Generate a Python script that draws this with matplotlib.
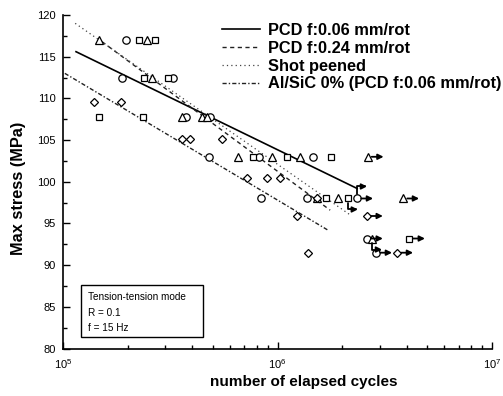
import matplotlib
matplotlib.use("Agg")
import matplotlib.pyplot as plt
from matplotlib.patches import Rectangle
from matplotlib.transforms import ScaledTranslation

plt.rcParams["font.family"] = ["Liberation Sans", "DejaVu Sans"]

# open markers: number of cycles / max stress (MPa)
circle_N = [1.97e5, 1.88e5, 3.26e5, 3.74e5, 4.85e5, 4.80e5, 8.20e5, 1.46e6,
            8.38e5, 1.37e6, 2.35e6, 2.61e6, 2.88e6]
circle_S = [117.0, 112.4, 112.4, 107.8, 107.8, 103.0, 103.0, 103.0,
            98.0, 98.0, 98.0, 93.2, 91.5]

square_N = [2.26e5, 2.69e5, 2.39e5, 3.09e5, 1.47e5, 2.36e5, 7.69e5, 1.11e6,
            1.78e6, 1.68e6, 2.13e6, 4.10e6]
square_S = [117.0, 117.0, 112.4, 112.4, 107.8, 107.8, 103.0, 103.0,
            103.0, 98.0, 98.0, 93.2]

triangle_N = [1.47e5, 2.47e5, 2.60e5, 3.59e5, 4.45e5, 4.69e5, 6.54e5, 9.42e5,
              1.27e6, 2.63e6, 1.53e6, 1.91e6, 3.85e6, 2.76e6]
triangle_S = [117.0, 117.0, 112.4, 107.8, 107.8, 107.8, 103.0, 103.0,
              103.0, 103.0, 98.0, 98.0, 98.0, 93.2]

diamond_N = [1.39e5, 1.86e5, 3.59e5, 3.91e5, 5.51e5, 7.21e5, 8.93e5, 1.03e6,
             1.53e6, 1.23e6, 2.61e6, 1.39e6, 3.61e6]
diamond_S = [109.6, 109.6, 105.1, 105.1, 105.1, 100.5, 100.5, 100.5,
             98.0, 95.9, 95.9, 91.5, 91.5]

# run-outs (arrow to the right)
runout_N = [2.35e6, 2.61e6, 2.88e6, 4.10e6, 2.63e6, 3.85e6, 2.61e6, 3.61e6]
runout_S = [98.0, 93.2, 91.5, 93.2, 103.0, 98.0, 95.9, 91.5]

# run-outs drawn as flags
flag_N = [2.35e6, 2.13e6, 2.76e6]
flag_S = [98.0, 98.0, 93.2]
flag_up = [True, False, False]

# fitted lines (end points)
fit_06_N = [1.15e5, 2.35e6]
fit_06_S = [115.6, 99.2]
fit_24_N = [1.52e5, 1.76e6]
fit_24_S = [116.8, 96.6]
fit_sp_N = [1.14e5, 2.19e6]
fit_sp_S = [119.0, 96.0]
fit_sic_N = [1.02e5, 1.72e6]
fit_sic_S = [113.0, 94.2]

labels = ["PCD f:0.06 mm/rot", "PCD f:0.24 mm/rot", "Shot peened",
          "Al/SiC 0% (PCD f:0.06 mm/rot)"]

W, H = 503, 396
fig = plt.figure(figsize=(W / 100, H / 100), dpi=100)
ax = fig.add_axes([63 / W, (H - 348.6) / H, 429 / W, 333.6 / H])

ax.plot(fit_06_N, fit_06_S, color="black", lw=1.2, ls="-", label=labels[0])
ax.plot(fit_24_N, fit_24_S, color="#222222", lw=1.0, ls=(0, (3, 2.5)), label=labels[1])
ax.plot(fit_sp_N, fit_sp_S, color="#444444", lw=0.9, ls=(0, (1, 2.5)), label=labels[2])
ax.plot(fit_sic_N, fit_sic_S, color="#222222", lw=1.0, ls=(0, (3, 1.5, 1, 1.5)), label=labels[3])

mk = dict(ls="none", mfc="white", mec="black", mew=0.9, ms=5.3, zorder=3)
ax.plot(circle_N, circle_S, marker="o", **mk)
ax.plot(square_N, square_S, marker="s", **dict(mk, ms=5))
ax.plot(triangle_N, triangle_S, marker="^", **mk)
ax.plot(diamond_N, diamond_S, marker="D", **dict(mk, ms=4.4))

arrow = dict(arrowstyle="-|>", color="black", lw=1.3, mutation_scale=8,
             shrinkA=3, shrinkB=0)
to_right = ax.transData + ScaledTranslation(0.16, 0, fig.dpi_scale_trans)
for n, s in zip(runout_N, runout_S):
    ax.annotate("", xy=(n, s), xycoords=to_right, xytext=(n, s),
                textcoords="data", arrowprops=arrow)

for n, s, up in zip(flag_N, flag_S, flag_up):
    dy = 0.12 if up else -0.11
    tip = ax.transData + ScaledTranslation(0.1, dy, fig.dpi_scale_trans)
    ax.annotate("", xy=(n, s), xycoords=tip, xytext=(n, s), textcoords="data",
                arrowprops=dict(arrow, connectionstyle="angle,angleA=90,angleB=0,rad=0"))

ax.set_xscale("log")
ax.set_xlim(1e5, 1e7)
ax.set_ylim(80, 120)
ax.set_yticks(range(80, 121, 5))
ax.set_yticks([82.5 + 5 * i for i in range(8)], minor=True)
for side in ("top", "right"):
    ax.spines[side].set_visible(False)
for side in ("left", "bottom"):
    ax.spines[side].set_linewidth(1.2)
ax.tick_params(which="both", direction="in", width=1.0, labelsize=8)
ax.tick_params(which="major", length=5)
ax.tick_params(which="minor", length=3)
ax.tick_params(axis="x", pad=6)
ax.tick_params(axis="y", pad=5)

ax.legend(loc="upper left", bbox_to_anchor=(222 / W, (H - 23) / H),
          bbox_transform=fig.transFigure, frameon=False, borderpad=0,
          borderaxespad=0, labelspacing=0.17, handlelength=2.3,
          handletextpad=0.5, prop=dict(size=11.8, weight="bold"))

ax.add_patch(Rectangle((0.042, 0.035), 0.284, 0.156, transform=ax.transAxes,
                       fill=False, lw=1.0, color="black", zorder=4))
ax.text(0.058, 0.155, "Tension-tension mode", transform=ax.transAxes,
        fontsize=7.2, va="center")
ax.text(0.058, 0.107, "R = 0.1", transform=ax.transAxes, fontsize=7.2, va="center")
ax.text(0.058, 0.062, "f = 15 Hz", transform=ax.transAxes, fontsize=7.2, va="center")

fig.text(19 / W, (H - 188) / H, "Max stress (MPa)", rotation=90, fontsize=11.8,
         fontweight="bold", ha="center", va="center")
fig.text(304 / W, (H - 382) / H, "number of elapsed cycles", fontsize=11,
         fontweight="bold", ha="center", va="center")

fig.savefig("out.png", dpi=100)
